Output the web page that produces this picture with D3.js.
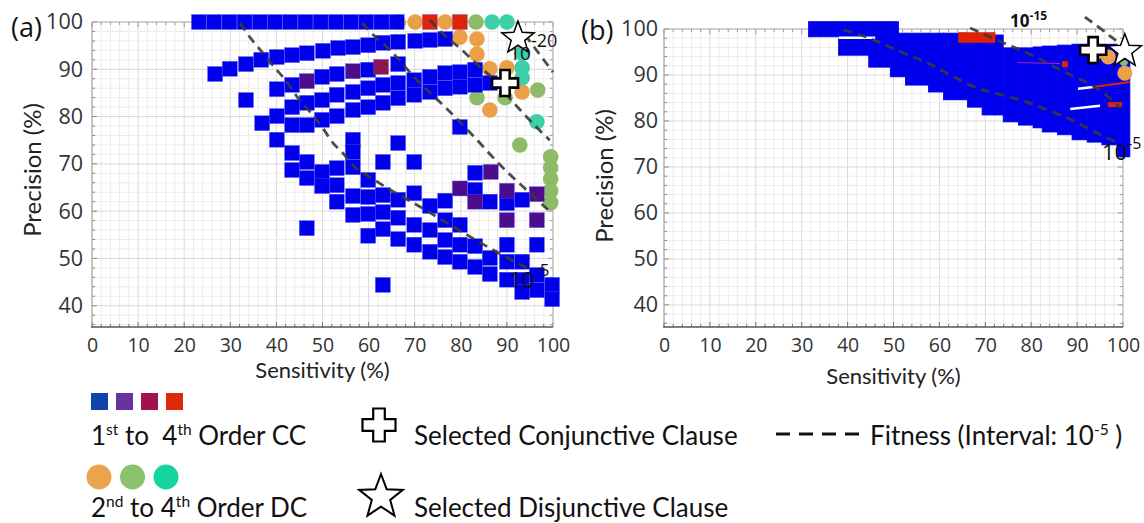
<!DOCTYPE html>
<html>
<head>
<meta charset="utf-8">
<script src="https://cdn.jsdelivr.net/npm/d3@7/dist/d3.min.js"></script>
<style>
html,body{margin:0;padding:0;background:#fff;}
svg{display:block;}
text{white-space:pre;}
</style>
</head>
<body>
<svg id="chart" width="1144" height="523"></svg>
<script>
// ---------------- tick labels ----------------
const xTickValues = [0,10,20,30,40,50,60,70,80,90,100];
const yTickValues = [40,50,60,70,80,90,100];

// ---------------- panel (a) data : [sensitivity, precision] ----------------
const aBlue = [
  [23.2,100],[26.5,100],[29.8,100],[33.1,100],[36.4,100],[39.7,100],[43.0,100],[46.3,100],[49.6,100],[52.9,100],[56.2,100],[59.5,100],[62.8,100],[66.1,100],
  [26.7,89.0],[29.9,90.1],[33.4,91.1],[36.7,92.0],[40.1,92.6],[43.4,93.0],[46.6,93.4],[50.1,93.9],[53.4,94.5],[56.6,94.7],[59.9,95.1],[63.1,95.6],[66.4,95.8],[70.1,96.0],[73.3,96.2],[76.6,96.4],
  [33.4,83.5],
  [36.9,78.6],
  [40.1,85.8],[40.1,80.1],[40.1,75.1],
  [43.4,86.7],[43.4,82.0],[43.4,78.2],[43.4,72.3],[43.4,68.7],
  [46.6,82.9],[46.6,78.2],[46.6,70.4],[46.6,67.0],[46.6,56.4],
  [49.9,88.4],[49.9,83.5],[49.9,79.3],[49.9,68.3],[49.9,65.3],
  [53.1,89.0],[53.1,84.6],[53.1,80.1],[53.1,69.1],[53.1,65.5],[53.1,62.0],
  [56.6,85.2],[56.6,81.4],[56.6,75.1],[56.6,72.5],[56.6,69.3],[56.6,63.2],[56.6,59.2],
  [59.9,89.9],[59.9,86.0],[59.9,82.0],[59.9,66.6],[59.9,63.0],[59.9,59.4],[59.9,54.8],
  [63.1,86.7],[63.1,82.9],[63.1,70.4],[63.1,63.4],[63.1,59.8],[63.1,56.2],[63.1,44.4],
  [66.4,91.1],[66.4,87.1],[66.4,83.9],[66.4,74.4],[66.4,62.4],[66.4,58.6],[66.4,54.1],
  [69.9,87.7],[69.9,84.6],[69.9,70.4],[69.9,63.8],[69.9,57.1],[69.9,52.9],
  [73.3,88.4],[73.3,85.2],[73.3,61.1],[73.3,56.0],[73.3,51.4],
  [76.6,89.2],[76.6,86.0],[76.6,62.2],[76.6,58.1],[76.6,53.9],[76.6,50.3],
  [79.8,89.4],[79.8,86.3],[79.8,77.8],[79.8,57.1],[79.8,52.9],[79.8,49.3],
  [83.1,89.9],[83.1,86.7],[83.1,68.1],[83.1,64.5],[83.1,52.6],[83.1,48.2],
  [86.3,87.1],[86.3,62.0],[86.3,50.1],[86.3,46.7],
  [90.0,61.7],[90.0,52.9],[90.0,49.3],[90.0,45.5],
  [93.3,62.4],[93.3,49.3],[93.3,45.5],[93.3,42.9],
  [96.5,52.9],[96.5,46.5],[96.5,43.3],
  [99.8,44.4],[99.8,41.4]
];
const aPurple = [[46.6,87.5],[56.6,89.6],[79.8,64.8],[83.1,62.0],[86.5,68.3],[90.0,64.3],[90.0,58.1],[96.5,63.6],[96.5,58.1]];
const aMaroon = [[62.7,90.5]];
const aRed = [[73.3,100],[79.8,100]];
const aOrange = [[66.4,100],[70.1,100],[76.6,100],[79.8,96.8],[83.5,96.4],[83.5,93.2],[86.3,90.1],[90.0,90.3],[93.3,85.2],[86.3,81.4]];
const aGreen = [[83.3,100],[96.7,85.6],[83.5,84.0],[89.6,84.0],[92.8,74.0],[99.5,71.5],[99.5,69.2],[99.5,66.8],[99.5,64.3],[99.5,61.8]];
const aTeal = [[86.8,100],[90.0,100],[93.3,93.4],[93.3,90.3],[93.3,88.2],[96.5,78.9]];
const aConjunctive = [89.6,87.1];
const aDisjunctive = [92.4,96.8];
const aFitness5  = [[32.1,99.8],[34.7,96.2],[37.1,93.4],[39.7,90.3],[42.3,87.3],[44.7,83.9],[47.3,81.0],[49.9,77.8],[52.3,74.4],[54.4,72.3],[57.0,69.3],[60.3,67.2],[64.0,64.9],[70.5,61.3],[77.0,57.5],[87.0,51.8],[95.0,47.6]];
const aFitness10 = [[58.6,99.8],[61.0,97.3],[64.6,94.1],[70.5,87.7],[76.6,82.0],[83.1,75.5],[88.5,69.8],[95.0,63.8],[98.9,60.3]];
const aFitness15 = [[73.3,100.4],[76.1,97.5],[80.0,94.3],[83.7,90.9],[86.8,88.2],[91.3,83.1],[94.5,79.7],[99.3,75.0]];
const aFitness20 = [[93.9,97.3],[100,89.4]];

// ---------------- panel (b) data ----------------
// blue CC region as column strips: [sens0, sens1, precTop, precBottom]
const bBlueStrips = [
  [31.5,38.0,101.6,98.3],[38.0,44.6,101.6,94.3],[44.6,49.3,101.6,91.7],[49.3,51.1,101.6,89.6],
  [51.1,52.6,99.1,89.6],[52.6,57.6,99.1,87.8],[57.6,60.9,99.1,86.3],[60.9,66.1,99.1,84.6],
  [66.1,69.3,98.9,83.0],[69.3,73.9,98.7,81.3],[73.9,77.2,95.9,79.8],[77.2,80.4,95.9,79.1],
  [80.4,82.4,96.1,78.5],[82.4,85.7,96.3,77.6],[85.7,88.9,96.5,77.0],[88.9,92.2,96.7,75.9],
  [92.2,95.4,96.7,75.4],[95.4,98.7,96.7,74.8],[98.7,101.5,96.0,72.2]
];
const bGaps = [[38.0,46.0,98.1,98.1],[90.2,93.5,87.0,87.4],[88.5,95.0,82.6,83.3]];
const bRedRects = [[64.1,72.2,99.3,97.0],[86.7,88.0,93.0,91.7],[96.7,99.8,84.1,83.0]];
const bRedLines = [[93.5,101.5,87.4,88.5]];
const bPurpleLines = [[77.0,86.3,92.7,92.5]];
const bOrange = [[94.3,95.0],[96.8,93.9],[100.4,90.4]];
const bGreen = [[100.2,92.8]];
const bConjunctive = [93.5,95.4];
const bDisjunctive = [100.4,95.4];
const bFitness5  = [[39.1,99.8],[42.8,98.7],[47.2,97.0],[52.2,94.8],[57.4,92.6],[62.4,90.0],[66.7,87.8],[71.1,86.3],[75.4,85.2],[79.1,84.1],[83.5,82.4],[87.8,80.7],[92.2,78.5],[96.5,76.3],[98.7,75.4]];
const bFitness10 = [[66.7,100.2],[73.9,97.0],[79.1,94.8],[87.8,90.4],[92.2,88.3],[95.7,86.1],[99.3,83.0]];
const bFitness15 = [[91.7,102.6],[95.0,100.2],[97.8,98.0],[100.4,96.1]];

// ---------------- colours ----------------
const C = {blue:'#0000ec', purple:'#4c0c8e', maroon:'#8c1650', red:'#e02208',
           orange:'#eaa048', green:'#8ebb68', teal:'#3ccfa8', dash:'#3a3a3a'};
const LEG = {blue:'#1144aa', purple:'#6633a0', maroon:'#a0124a', red:'#dd2a08',
             orange:'#e8a54c', green:'#8cc26c', teal:'#16d4a2'};

const svg = d3.select('#chart');
const A = {x:d3.scaleLinear().domain([0,100]).range([92,553]),  y:d3.scaleLinear().domain([35.5,100]).range([327,22])};
const B = {x:d3.scaleLinear().domain([0,100]).range([664,1123]), y:d3.scaleLinear().domain([35.2,100]).range([327,29])};

function frame(P, ypad){
  const g = svg.append('g');
  const [x0,x1] = P.x.range(); const [yb,yt] = P.y.range();
  const gx = d3.range(0,101,2), gy = d3.range(36,101,2);
  g.selectAll('line.gx').data(gx).join('line').attr('class','gx')
    .attr('x1',d=>P.x(d)).attr('x2',d=>P.x(d)).attr('y1',yb).attr('y2',yt)
    .attr('stroke',d=>d%10===0?'#d9d9d9':'#ececec').attr('stroke-width',1);
  g.selectAll('line.gy').data(gy).join('line').attr('class','gy')
    .attr('y1',d=>P.y(d)).attr('y2',d=>P.y(d)).attr('x1',x0).attr('x2',x1)
    .attr('stroke',d=>d%10===0?'#d9d9d9':'#ececec').attr('stroke-width',1);
  g.selectAll('line.tb').data(gx).join('line').attr('x1',d=>P.x(d)).attr('x2',d=>P.x(d))
    .attr('y1',yb).attr('y2',d=>yb-(d%10===0?5:3)).attr('stroke','#777');
  g.selectAll('line.tt').data(gx).join('line').attr('x1',d=>P.x(d)).attr('x2',d=>P.x(d))
    .attr('y1',yt).attr('y2',d=>yt+(d%10===0?5:3)).attr('stroke','#999');
  g.selectAll('line.tl').data(gy).join('line').attr('y1',d=>P.y(d)).attr('y2',d=>P.y(d))
    .attr('x1',x0).attr('x2',d=>x0+(d%10===0?5:3)).attr('stroke','#888');
  g.selectAll('line.tr').data(gy).join('line').attr('y1',d=>P.y(d)).attr('y2',d=>P.y(d))
    .attr('x1',x1).attr('x2',d=>x1-(d%10===0?5:3)).attr('stroke','#999');
  g.append('line').attr('x1',x0).attr('x2',x1).attr('y1',yt).attr('y2',yt).attr('stroke','#b5b5b5');
  g.append('line').attr('x1',x1).attr('x2',x1).attr('y1',yt).attr('y2',yb).attr('stroke','#b5b5b5');
  g.append('line').attr('x1',x0).attr('x2',x0).attr('y1',yt).attr('y2',yb).attr('stroke','#a0a0a0');
  g.append('line').attr('x1',x0-1).attr('x2',x1).attr('y1',yb).attr('y2',yb).attr('stroke','#555').attr('stroke-width',1.6);
  const ax = svg.append('g').attr('transform',`translate(0,${yb})`)
    .call(d3.axisBottom(P.x).tickValues(xTickValues).tickSize(0).tickPadding(11));
  ax.select('.domain').remove();
  ax.selectAll('text').attr('font-family','Open Sans').attr('font-size',19.5).attr('fill','#333');
  const ay = svg.append('g').attr('transform',`translate(${x0},0)`)
    .call(d3.axisLeft(P.y).tickValues(yTickValues).tickSize(0).tickPadding(ypad));
  ay.select('.domain').remove();
  ay.selectAll('text').attr('font-family','Open Sans').attr('font-size',21.5).attr('fill','#333');
}

function squares(P, data, color, size){
  svg.append('g').selectAll('rect').data(data).join('rect')
    .attr('x',d=>P.x(d[0])-size/2).attr('y',d=>P.y(d[1])-size/2)
    .attr('width',size).attr('height',size)
    .attr('fill',color).attr('stroke','#5a5af5').attr('stroke-width',0.5).attr('stroke-opacity',0.7);
}
function circles(P, data, color, r){
  svg.append('g').selectAll('circle').data(data).join('circle')
    .attr('cx',d=>P.x(d[0])).attr('cy',d=>P.y(d[1])).attr('r',r).attr('fill',color);
}
function dashed(P, data, w){
  svg.append('path').datum(data)
    .attr('d',d3.line().x(d=>P.x(d[0])).y(d=>P.y(d[1])).curve(d3.curveMonotoneX))
    .attr('fill','none').attr('stroke',C.dash).attr('stroke-width',w||2.8)
    .attr('stroke-dasharray','9,6').attr('stroke-opacity',0.9);
}
function crossPath(cx,cy,L,a){
  return `M${cx-a},${cy-L}H${cx+a}V${cy-a}H${cx+L}V${cy+a}H${cx+a}V${cy+L}H${cx-a}V${cy+a}H${cx-L}V${cy-a}H${cx-a}Z`;
}
function starPath(cx,cy,R,ratio){
  const pts=[];
  for(let i=0;i<10;i++){
    const r = i%2===0?R:R*ratio;
    const ang = -Math.PI/2 + i*Math.PI/5;
    pts.push([cx+r*Math.cos(ang), cy+r*Math.sin(ang)]);
  }
  return 'M'+pts.map(p=>p.join(',')).join('L')+'Z';
}
function supText(x,y,parts,opts){
  const t = svg.append('text').attr('x',x).attr('y',y)
    .attr('font-family',opts.family).attr('font-size',opts.size)
    .attr('font-weight',opts.weight||'normal').attr('fill',opts.fill||'#111');
  let shift=0;
  parts.forEach(p=>{
    const sp = t.append('tspan').text(p[0]);
    if(p[1]){ sp.attr('font-size',opts.sup).attr('dy',-opts.raise-shift); shift=-opts.raise; }
    else { sp.attr('dy',-shift); shift=0; }
  });
  return t;
}

// ================= PANEL (a) =================
frame(A, 9);
circles(A, aOrange, C.orange, 7.8);
circles(A, aGreen, C.green, 7.8);
circles(A, aTeal, C.teal, 7.8);
squares(A, aBlue, C.blue, 15);
squares(A, aPurple, C.purple, 15);
squares(A, aMaroon, C.maroon, 15);
squares(A, aRed, C.red, 15);
[aFitness5,aFitness10,aFitness15,aFitness20].forEach(l=>dashed(A,l));
svg.append('path').attr('d',crossPath(A.x(aConjunctive[0]),A.y(aConjunctive[1]),13,4.6))
  .attr('fill','#fff').attr('stroke','#000').attr('stroke-width',2.6).attr('stroke-linejoin','miter');
svg.append('path').attr('d',starPath(A.x(aDisjunctive[0]),A.y(aDisjunctive[1])+1,17,0.42))
  .attr('fill','#fff').attr('stroke','#000').attr('stroke-width',1.5);
supText(A.x(90.5),A.y(92.0),[['10'],['-20',1]],{family:'Open Sans',size:19,sup:18,raise:13,fill:'#111'});
supText(A.x(90.5),A.y(43.7),[['10'],['-5',1]],{family:'Open Sans',size:22,sup:17,raise:12,fill:'#111'});
svg.append('text').attr('x',11).attr('y',37).attr('font-family','Open Sans').attr('font-size',27).attr('fill','#111').text('(a)');

// ================= PANEL (b) =================
frame(B, 6);
svg.append('g').selectAll('rect').data(bBlueStrips).join('rect')
  .attr('x',d=>B.x(d[0])).attr('y',d=>B.y(d[2]))
  .attr('width',d=>B.x(d[1])-B.x(d[0])).attr('height',d=>B.y(d[3])-B.y(d[2]))
  .attr('fill',C.blue).attr('stroke',C.blue).attr('stroke-width',0.8);
svg.append('g').selectAll('line').data(bGaps).join('line')
  .attr('x1',d=>B.x(d[0])).attr('x2',d=>B.x(d[1])).attr('y1',d=>B.y(d[2])).attr('y2',d=>B.y(d[3]))
  .attr('stroke','#fff').attr('stroke-width',2.5);
svg.append('g').selectAll('rect').data(bRedRects).join('rect')
  .attr('x',d=>B.x(d[0])).attr('y',d=>B.y(d[2]))
  .attr('width',d=>B.x(d[1])-B.x(d[0])).attr('height',d=>B.y(d[3])-B.y(d[2]))
  .attr('fill',C.red);
svg.append('g').selectAll('line').data(bRedLines).join('line')
  .attr('x1',d=>B.x(d[0])).attr('x2',d=>B.x(d[1])).attr('y1',d=>B.y(d[2])).attr('y2',d=>B.y(d[3]))
  .attr('stroke',C.red).attr('stroke-width',2);
svg.append('g').selectAll('line').data(bPurpleLines).join('line')
  .attr('x1',d=>B.x(d[0])).attr('x2',d=>B.x(d[1])).attr('y1',d=>B.y(d[2])).attr('y2',d=>B.y(d[3]))
  .attr('stroke','#b020c0').attr('stroke-width',1);
circles(B, bOrange, C.orange, 7.5);
circles(B, bGreen, C.green, 4);
[bFitness5,bFitness10,bFitness15].forEach(l=>dashed(B,l));
svg.append('path').attr('d',crossPath(B.x(bConjunctive[0]),B.y(bConjunctive[1]),13,4.6))
  .attr('fill','#fff').attr('stroke','#000').attr('stroke-width',2.6);
svg.append('path').attr('d',starPath(B.x(bDisjunctive[0]),B.y(bDisjunctive[1])+1,17.5,0.42))
  .attr('fill','#fff').attr('stroke','#000').attr('stroke-width',1.5);
supText(B.x(75.4),B.y(100.4),[['10'],['-15',1]],{family:'Open Sans',size:17,sup:12,raise:7,weight:'bold',fill:'#111'});
supText(B.x(95.4),B.y(71.5),[['10'],['-5',1]],{family:'Open Sans',size:22,sup:16,raise:11,fill:'#111'});
svg.append('text').attr('x',581).attr('y',40).attr('font-family','Open Sans').attr('font-size',27).attr('fill','#111').text('(b)');

// ---------------- axis titles ----------------
function xTitle(P,y){
  svg.append('text').attr('x',(P.x.range()[0]+P.x.range()[1])/2).attr('y',y).attr('text-anchor','middle')
    .attr('font-family','Lato').attr('font-size',22).attr('fill','#222').text('Sensitivity (%)');
}
function yTitle(x,cy){
  svg.append('text').attr('transform',`translate(${x},${cy}) rotate(-90)`).attr('text-anchor','middle')
    .attr('font-family','Lato').attr('font-size',24).attr('fill','#222').text('Precision (%)');
}
xTitle(A,378); xTitle(B,384);
yTitle(41,170); yTitle(613,176);

// ---------------- legend ----------------
const legendSquares = [LEG.blue, LEG.purple, LEG.maroon, LEG.red];
const legendCircles = [LEG.orange, LEG.green, LEG.teal];
svg.append('g').selectAll('rect').data(legendSquares).join('rect')
  .attr('x',(d,i)=>91+i*25).attr('y',393).attr('width',17).attr('height',17).attr('fill',d=>d);
svg.append('g').selectAll('circle').data(legendCircles).join('circle')
  .attr('cx',(d,i)=>99+i*33.5).attr('cy',477).attr('r',12.5).attr('fill',d=>d);
const LF = {family:'Lato',size:26,sup:15.5,raise:10,fill:'#111'};
supText(91,445,[['1'],['st',1],[' to  4'],['th',1],[' Order CC']],LF);
supText(91,517,[['2'],['nd',1],[' to 4'],['th',1],[' Order DC']],LF);
svg.append('path').attr('d',crossPath(379,425,16.5,5.8)).attr('fill','#fff').attr('stroke','#000').attr('stroke-width',2.2);
svg.append('text').attr('x',414).attr('y',445).attr('font-family','Lato').attr('font-size',26).attr('fill','#111').text('Selected Conjunctive Clause');
svg.append('path').attr('d',starPath(381,497,23,0.42)).attr('fill','#fff').attr('stroke','#000').attr('stroke-width',2);
svg.append('text').attr('x',414).attr('y',517).attr('font-family','Lato').attr('font-size',26).attr('fill','#111').text('Selected Disjunctive Clause');
svg.append('line').attr('x1',776).attr('x2',859).attr('y1',434).attr('y2',434)
  .attr('stroke','#111').attr('stroke-width',3).attr('stroke-dasharray','14,9');
supText(870,445,[['Fitness (Interval: 10'],['-5',1],[' )']],LF);
</script>
</body>
</html>
